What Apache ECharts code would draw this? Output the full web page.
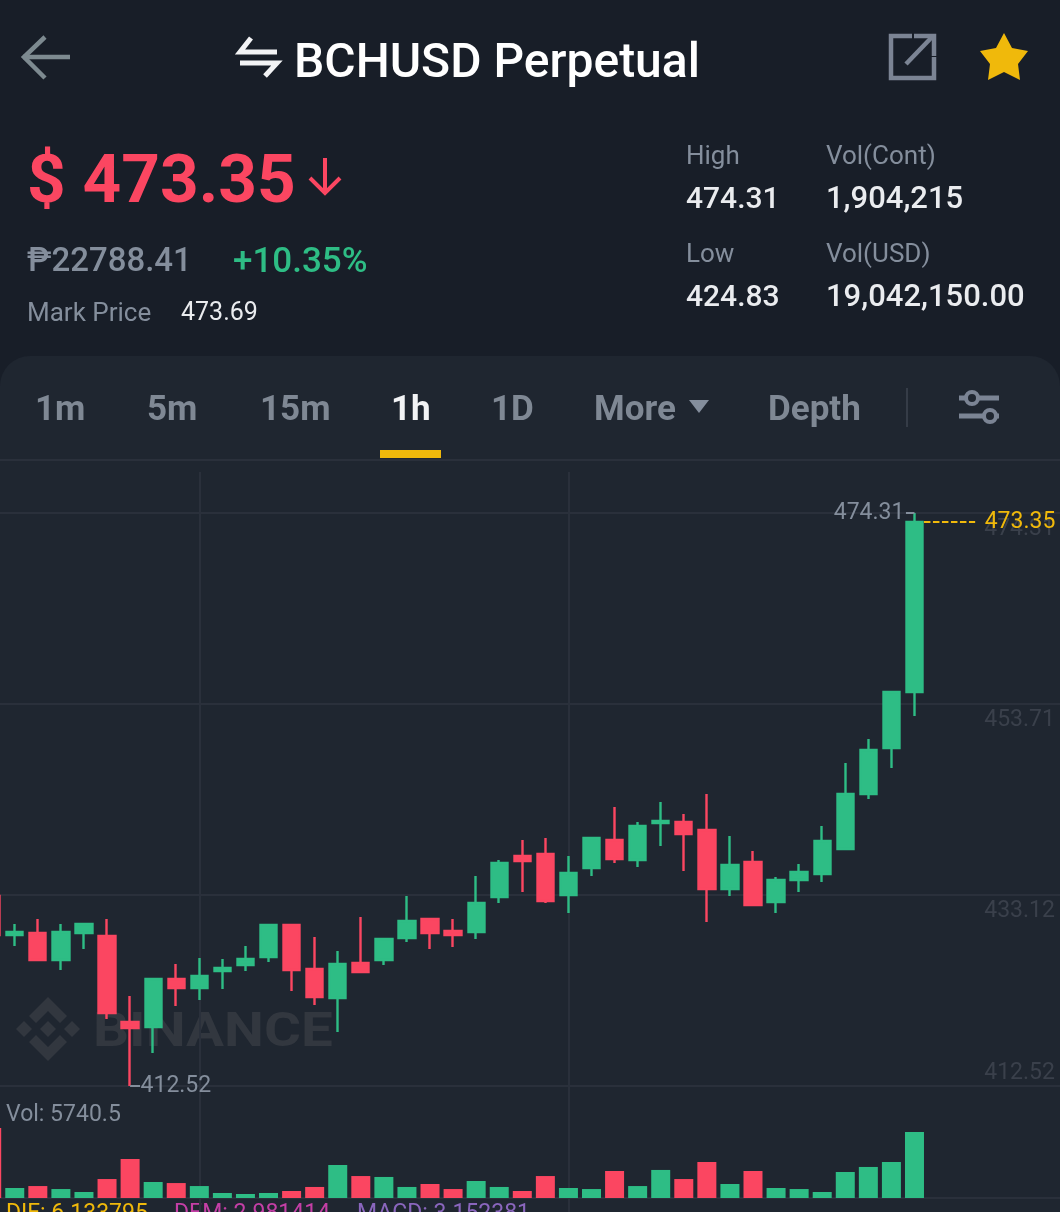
<!DOCTYPE html>
<html><head><meta charset="utf-8">
<style>html,body{margin:0;padding:0;background:#181e28;overflow:hidden}#c{width:1060px;height:1212px}</style>
<script src="https://cdn.jsdelivr.net/npm/echarts@6/dist/echarts.min.js"></script>
</head><body><div id="c"></div>
<script>
const opens=[433.01,428.81,429.02,426.11,429.02,428.70,419.42,418.89,424.06,423.09,424.92,425.57,426.43,429.88,425.14,422.01,425.79,426.11,428.48,430.53,429.24,429.13,432.90,437.32,437.54,433.12,436.03,439.05,436.89,440.88,440.99,440.13,433.77,436.68,432.36,434.74,435.38,438.08,444.01,448.97,455.01];
const closes=[428.81,429.13,426.11,429.13,429.99,420.39,418.78,424.06,423.09,424.38,425.25,426.22,429.88,425.03,422.12,425.68,424.82,428.37,430.32,429.02,428.81,432.26,436.57,436.79,432.47,435.49,439.27,437.00,440.56,441.10,439.70,433.77,436.35,432.04,434.74,435.60,438.94,444.01,448.75,455.01,473.35];
const lows=[428.27,427.62,426.00,425.03,427.30,419.75,412.52,416.08,421.15,421.80,422.98,424.92,425.89,422.77,421.26,418.35,424.82,425.57,428.05,427.30,427.51,428.37,432.26,433.44,432.26,431.18,435.17,436.57,436.14,438.40,435.71,430.21,433.01,432.04,431.18,433.44,434.52,438.08,443.47,446.81,452.42];
const highs=[433.66,429.99,430.53,429.99,429.99,430.53,422.23,424.17,425.68,426.33,426.22,427.62,429.88,429.88,428.59,427.08,430.75,428.48,433.01,430.64,430.53,435.17,436.89,439.05,439.27,437.32,439.37,442.61,440.99,443.15,441.85,444.01,439.48,437.86,435.06,436.46,440.56,447.35,449.94,455.01,474.31];
const volumes=[6090,870,1040,780,520,1650,3390,1390,1300,1040,435,350,435,610,960,2870,1910,1830,960,1220,780,1480,960,610,1910,870,780,2350,1040,2440,1650,3130,1220,2350,870,780,520,2260,2700,3130,5740.5];
const priceTicks=[412.52,433.12,453.71,474.31];
const lastPrice=473.35, highPrice=474.31, lowPrice=412.52;

const UP='#2ebd85', DOWN='#fb4661', GRID='#2a303b', GREY='#848e9c', GOLD='#f0b90b', WHITE='#eaecef';
const F='Roboto, sans-serif';
const slots=47;
const cats=Array.from({length:slots},(_,i)=>String(i));
const candle=opens.map((o,i)=>[o,closes[i],lows[i],highs[i]]);
const vol=volumes.map((v,i)=>({value:v,itemStyle:{color:closes[i]>=opens[i]?UP:DOWN}}));

const gl=[];
function T(text,x,y,size,color,weight,extra){gl.push(Object.assign({type:'text',z:-1,x,y,style:{text,fontSize:size,fill:color,fontFamily:F,fontWeight:weight||400,align:'left',verticalAlign:'middle'}},extra||{}));}
function P(points,stroke,w,fill){gl.push({type:fill?'polygon':'polyline',z:-1,shape:{points},style:fill?{fill}:{stroke,lineWidth:w,fill:null,lineJoin:'miter'}});}
gl.push({type:'rect',z:-1,z2:-5,shape:{x:0,y:356,width:1060,height:900,r:[30,30,0,0]},style:{fill:'#1f2630'}});
// header
P([[23,57],[70,57]],'#7d8a90',4.5);P([[45,37],[24,57],[45,78]],'#7d8a90',4.5);
P([[251,38],[240,52],[277,52]],'#f2f3f5',5);P([[240,63],[277,63],[265,76]],'#f2f3f5',5);
T('BCHUSD Perpetual',294,65,48,'#ffffff',500);
P([[912,36],[891,36],[891,78],[934,78],[934,57]],'#7b8494',4.5);
P([[906,64],[932,37]],'#7b8494',4.5);P([[914,36],[934,36],[934,56]],'#7b8494',4.5);
P([[1004,33],[1012,48],[1028,51],[1018,64],[1020,80],[1004,72],[988,80],[990,64],[980,51],[996,48]],null,0,GOLD);
// ticker
T('$ 473.35',27,185,67.5,DOWN,700);
P([[325,158],[325,192]],DOWN,4);P([[310,178],[325,193],[340,178]],DOWN,4);
T('₱22788.41',27,263,33,GREY,500);
T('+10.35%',233,263,35,UP,500);
T('Mark Price',27,314,26,GREY);T('473.69',181,314,25,WHITE);
T('High',686,157,26,GREY);T('Vol(Cont)',826,157,26,GREY);
T('474.31',686,200,30,WHITE,500);T('1,904,215',826,200,31,WHITE,500);
T('Low',686,255,26,GREY);T('Vol(USD)',826,255,26,GREY);
T('424.83',686,298,30,WHITE,500);T('19,042,150.00',826,298,31,WHITE,500);
// tabs
[['1m',35],['5m',147],['15m',260],['1D',491],['More',594],['Depth',768]].forEach(a=>T(a[0],a[1],411,35,'#7f8894',700));
T('1h',391,411,35,'#f2f3f5',700);
P([[689,400],[709,400],[699,413]],null,0,GREY);
gl.push({type:'rect',z:-1,shape:{x:906,y:388,width:2,height:39},style:{fill:'#353c47'}});
P([[959,398],[999,398]],'#7b8494',5);P([[959,416],[999,416]],'#7b8494',5);
gl.push({type:'circle',z:-1,z2:2,shape:{cx:972,cy:398,r:6},style:{fill:'#1f2630',stroke:'#7b8494',lineWidth:4}});
gl.push({type:'circle',z:-1,z2:2,shape:{cx:990,cy:416,r:6},style:{fill:'#1f2630',stroke:'#7b8494',lineWidth:4}});
gl.push({type:'rect',z:-1,shape:{x:380,y:450,width:61,height:8},style:{fill:GOLD}});
gl.push({type:'rect',z:-1,shape:{x:0,y:459,width:1060,height:2},style:{fill:GRID}});
// watermark
const WM='#32373f';
P([[48,997],[67,1016],[60,1023],[48,1011],[36,1023],[29,1016]],null,0,WM);
P([[48,1061],[67,1042],[60,1035],[48,1047],[36,1035],[29,1042]],null,0,WM);
[24,48,72].forEach(x=>P([[x,1021],[x+8,1029],[x,1037],[x-8,1029]],null,0,WM));
T('BINANCE',93,1034,49,WM,700,{scaleX:1.154});
// footers
T('Vol: 5740.5',6,1115,23,GREY);
T('DIF: 6.133795',6,1214,23,GOLD);T('DEM: 2.981414',174,1214,23,'#c43fa6');T('MACD: 3.152381',357,1214,23,'#8a66bd');

const left=-19.85,width=23.07*slots;
const gridBase={outerBoundsMode:'none',containLabel:false,left,width};
const hiddenCat=g=>({type:'category',gridIndex:g,data:cats,show:false});
const mark=(x,y,text,pos,dist)=>({value:[x,y],symbol:'circle',symbolSize:1,itemStyle:{color:'transparent'},label:{show:!!text,formatter:text||'',position:pos,distance:dist}});
const note=(data,color,lineType,labelColor)=>({type:'line',xAxisIndex:3,yAxisIndex:0,z:5,silent:true,animation:false,data,
  lineStyle:{color,width:2,type:lineType},label:{color:labelColor,fontSize:23,fontFamily:F},emphasis:{disabled:true}});

const chart=echarts.init(document.getElementById('c'),null,{renderer:'canvas'});
chart.setOption({
  backgroundColor:'#181e28',animation:false,
  graphic:{elements:gl},
  grid:[Object.assign({top:472,height:614},gridBase),Object.assign({top:1100,height:98},gridBase),Object.assign({top:472,height:760},gridBase)],
  xAxis:[hiddenCat(0),hiddenCat(1),
    {type:'value',gridIndex:2,min:-0.5,max:slots-0.5,axisLine:{show:false},axisLabel:{show:false},
     axisTick:{show:false,customValues:[9,25]},splitLine:{show:true,lineStyle:{color:GRID,width:2}}},
    {type:'value',gridIndex:0,min:-0.5,max:slots-0.5,show:false,splitLine:{show:false}}],
  yAxis:[
    {type:'value',gridIndex:0,min:412.52,max:478.73,position:'right',axisLine:{show:false},
     axisTick:{show:false,customValues:priceTicks},
     axisLabel:{inside:true,margin:9.5,customValues:priceTicks,color:'#3a404b',fontSize:23,fontFamily:F,
       formatter:v=>{const t=v.toFixed(2);return v<420?'{b|'+t+'}':'{a|'+t+'}';},
       rich:{a:{padding:[32,0,0,0],fontSize:23,color:'#3a404b',fontFamily:F},b:{padding:[0,0,26,0],fontSize:23,color:'#3a404b',fontFamily:F}}},
     splitLine:{show:true,lineStyle:{color:GRID,width:2}}},
    {type:'value',gridIndex:1,min:0,max:8524,axisLine:{show:false},axisTick:{show:false,customValues:[0]},axisLabel:{show:false,customValues:[0]},
     splitLine:{show:true,lineStyle:{color:GRID,width:2}}},
    {type:'value',gridIndex:2,min:0,max:1,show:false,splitLine:{show:false}}],
  series:[
    {type:'candlestick',name:'BCHUSD',xAxisIndex:0,yAxisIndex:0,barWidth:16.8,z:3,data:candle,
      itemStyle:{color:UP,color0:DOWN,borderColor:UP,borderColor0:DOWN,borderWidth:2.4}},
    {type:'bar',name:'Vol',xAxisIndex:1,yAxisIndex:1,barWidth:19,z:3,data:vol},
    note([mark(40.41,lastPrice),mark(42.63,lastPrice,String(lastPrice),'right',9)],GOLD,[6.5,2.5],GOLD),
    note([mark(40,highPrice),mark(39.63,highPrice,String(highPrice),'left',1)],GREY,'solid',GREY),
    note([mark(6,lowPrice),mark(6.43,lowPrice,String(lowPrice),'right',0)],GREY,'solid',GREY)
  ]
});
</script></body></html>
